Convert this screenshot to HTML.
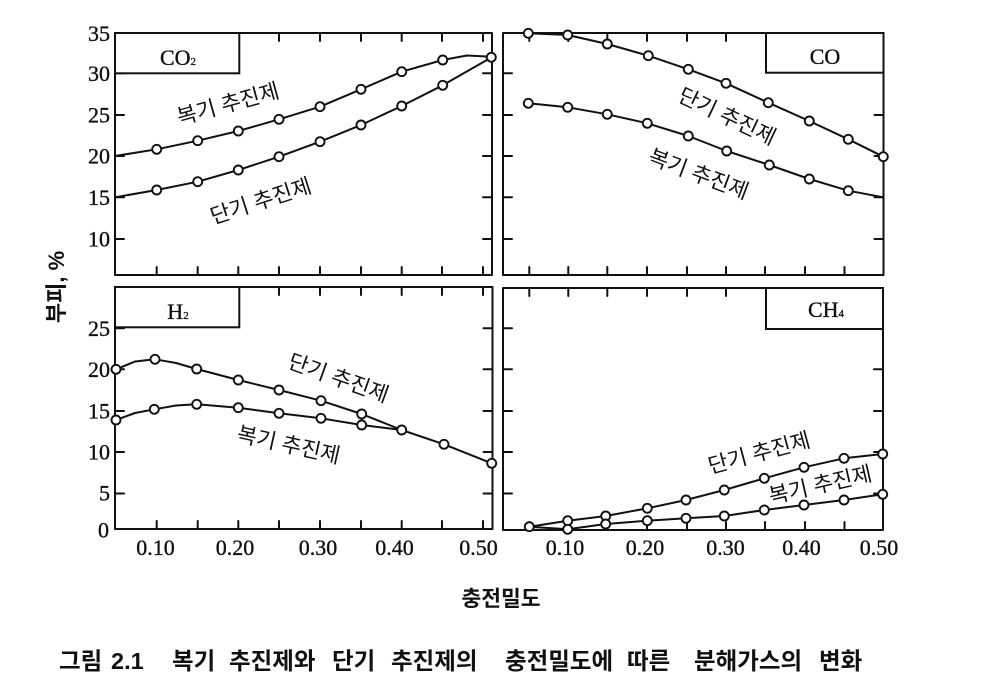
<!DOCTYPE html>
<html>
<head>
<meta charset="utf-8">
<style>
html,body{margin:0;padding:0;background:#fff;}
svg{display:block;}
.num{font-family:"Liberation Serif","Times New Roman",serif;font-size:22px;fill:#111;stroke:#111;stroke-width:0.35px;}
.kr{font-family:"Liberation Sans","Noto Sans CJK KR","NanumGothic",sans-serif;fill:#111;}
</style>
</head>
<body>
<svg width="987" height="692" viewBox="0 0 987 692" xmlns="http://www.w3.org/2000/svg">
<rect x="0" y="0" width="987" height="692" fill="#fff"/>

<g fill="none" stroke="#111" stroke-width="2" stroke-linejoin="round" stroke-linecap="round">
  <rect x="115" y="33" width="377" height="242"/>
  <rect x="503" y="33" width="380.5" height="242"/>
  <rect x="115" y="287" width="377.5" height="242"/>
  <rect x="503" y="288" width="380" height="242"/>

  <path d="M156.7,275v-8M197.7,275v-8M238.3,275v-8M279,275v-8M320,275v-8M361,275v-8M401.7,275v-8M442,275v-8M483,275v-8
           M279,33v8M320,33v8M361,33v8M401.7,33v8M442,33v8M483,33v8
           M115,73.3h9M115,115h9M115,156h9M115,197.3h9M115,239h9
           M492,73.3h-9M492,115h-9M492,156h-9M492,197.3h-9M492,239h-9"/>
  <path d="M529.3,275v-8M568.3,275v-8M607.3,275v-8M647,275v-8M687,275v-8M726,275v-8M765,275v-8M805,275v-8M844.5,275v-8
           M529.3,33v8M568.3,33v8M607.3,33v8M647,33v8M687,33v8M726,33v8
           M503,73.3h9M503,115h9M503,156h9M503,197.3h9M503,239h9
           M883.5,115h-9M883.5,156h-9M883.5,197.3h-9M883.5,239h-9"/>
  <path d="M156.7,529v-8M197.7,529v-8M238.3,529v-8M279,529v-8M320,529v-8M361,529v-8M401.7,529v-8M442,529v-8M483,529v-8
           M279,287v8M320,287v8M361,287v8M401.7,287v8M442,287v8M483,287v8
           M115,328.3h9M115,369.3h9M115,411h9M115,452h9M115,493.5h9
           M492.5,328.3h-9M492.5,369.3h-9M492.5,411h-9M492.5,452h-9M492.5,493.5h-9"/>
  <path d="M529.3,530v-8M568.3,530v-8M607.3,530v-8M647,530v-8M687,530v-8M726,530v-8M765,530v-8M805,530v-8M844.5,530v-8
           M529.3,288v8M568.3,288v8M607.3,288v8M647,288v8M687,288v8M726,288v8
           M503,328.3h9M503,369.3h9M503,411h9M503,452h9M503,493.5h9
           M883,369.3h-9M883,411h-9M883,452h-9M883,493.5h-9"/>

  <polyline points="115,156 156.7,149.3 197.7,140.7 238.3,131 279,119.3 320,106.7 361,89.3 401.7,71.7 442.7,60 467,55.5 491.7,56.7"/>
  <polyline points="115,197.3 156.7,190 197.7,181.7 238.3,170 279,156.7 320,141.7 361,125 401.7,106 442.7,85.3 491.7,57.3"/>
  <polyline points="528.3,33.3 567.7,35 607.3,44 648.3,55.7 688.3,69.3 726,83.3 768.3,102.7 809.3,121 848.3,139.3 883.3,156.7"/>
  <polyline points="528.3,103.3 567.7,107.3 607.3,114.3 647.3,123.3 688.3,136 726.7,151 769.3,165 809.3,179 848.3,190.7 883.3,197.3"/>
  <polyline points="116,369.3 135,361.5 155,359.3 176,363 196.7,369 238.3,380 279,390 321,400.7 361.7,414 401.7,430 444,444.3 491.7,463.3"/>
  <polyline points="116,420 135,413 154.3,409.3 176,405.5 196.7,404.3 238.3,407.7 279,413.3 321,418.3 361.7,425 401.7,430"/>
  <polyline points="529.3,526.7 567.7,520.7 605.7,516 647.3,508.3 686,500 724.3,490 764.3,478.3 804,467.3 844,458.3 882.7,454"/>
  <polyline points="529.3,526.7 567.7,529.3 605.7,524 647.3,520.7 686,518.3 724.3,516 764.3,510 804,505 844,500 882.7,494.3"/>
</g>

<g fill="#fff" stroke="#111" stroke-width="1.9">
  <circle cx="156.7" cy="149.3" r="4.5"/><circle cx="197.7" cy="140.7" r="4.5"/><circle cx="238.3" cy="131" r="4.5"/><circle cx="279" cy="119.3" r="4.5"/><circle cx="320" cy="106.7" r="4.5"/><circle cx="361" cy="89.3" r="4.5"/><circle cx="401.7" cy="71.7" r="4.5"/><circle cx="442.7" cy="60" r="4.5"/>
  <circle cx="156.7" cy="190" r="4.5"/><circle cx="197.7" cy="181.7" r="4.5"/><circle cx="238.3" cy="170" r="4.5"/><circle cx="279" cy="156.7" r="4.5"/><circle cx="320" cy="141.7" r="4.5"/><circle cx="361" cy="125" r="4.5"/><circle cx="401.7" cy="106" r="4.5"/><circle cx="442.7" cy="85.3" r="4.5"/><circle cx="491.3" cy="57.3" r="4.5"/>

  <circle cx="528.3" cy="33.3" r="4.5"/><circle cx="567.7" cy="35" r="4.5"/><circle cx="607.3" cy="44" r="4.5"/><circle cx="648.3" cy="55.7" r="4.5"/><circle cx="688.3" cy="69.3" r="4.5"/><circle cx="726" cy="83.3" r="4.5"/><circle cx="768.3" cy="102.7" r="4.5"/><circle cx="809.3" cy="121" r="4.5"/><circle cx="848.3" cy="139.3" r="4.5"/><circle cx="883.3" cy="156.7" r="4.5"/>
  <circle cx="528.3" cy="103.3" r="4.5"/><circle cx="567.7" cy="107.3" r="4.5"/><circle cx="607.3" cy="114.3" r="4.5"/><circle cx="647.3" cy="123.3" r="4.5"/><circle cx="688.3" cy="136" r="4.5"/><circle cx="726.7" cy="151" r="4.5"/><circle cx="769.3" cy="165" r="4.5"/><circle cx="809.3" cy="179" r="4.5"/><circle cx="848.3" cy="190.7" r="4.5"/>

  <circle cx="116" cy="369.3" r="4.5"/><circle cx="155" cy="359.3" r="4.5"/><circle cx="196.7" cy="369" r="4.5"/><circle cx="238.3" cy="380" r="4.5"/><circle cx="279" cy="390" r="4.5"/><circle cx="321" cy="400.7" r="4.5"/><circle cx="361.7" cy="414" r="4.5"/><circle cx="401.7" cy="430" r="4.5"/><circle cx="444" cy="444.3" r="4.5"/><circle cx="491.7" cy="463.3" r="4.5"/>
  <circle cx="116" cy="420" r="4.5"/><circle cx="154.3" cy="409.3" r="4.5"/><circle cx="196.7" cy="404.3" r="4.5"/><circle cx="238.3" cy="407.7" r="4.5"/><circle cx="279" cy="413.3" r="4.5"/><circle cx="321" cy="418.3" r="4.5"/><circle cx="361.7" cy="425" r="4.5"/>

  <circle cx="529.3" cy="526.7" r="4.5"/><circle cx="567.7" cy="520.7" r="4.5"/><circle cx="605.7" cy="516" r="4.5"/><circle cx="647.3" cy="508.3" r="4.5"/><circle cx="686" cy="500" r="4.5"/><circle cx="724.3" cy="490" r="4.5"/><circle cx="764.3" cy="478.3" r="4.5"/><circle cx="804" cy="467.3" r="4.5"/><circle cx="844" cy="458.3" r="4.5"/><circle cx="882.7" cy="454" r="4.5"/>
  <circle cx="567.7" cy="529.3" r="4.5"/><circle cx="605.7" cy="524" r="4.5"/><circle cx="647.3" cy="520.7" r="4.5"/><circle cx="686" cy="518.3" r="4.5"/><circle cx="724.3" cy="516" r="4.5"/><circle cx="764.3" cy="510" r="4.5"/><circle cx="804" cy="505" r="4.5"/><circle cx="844" cy="500" r="4.5"/><circle cx="882.7" cy="494.3" r="4.5"/>
</g>

<g fill="#fff" stroke="#111" stroke-width="2">
  <rect x="115" y="33" width="124.3" height="40.3"/>
  <rect x="766" y="33" width="117.5" height="39.7"/>
  <rect x="115" y="287" width="124.3" height="40.3"/>
  <rect x="766" y="288" width="117" height="41"/>
</g>
<text class="num" x="178" y="65" text-anchor="middle" font-size="21">CO<tspan font-size="11">2</tspan></text>
<text class="num" x="825" y="64" text-anchor="middle" font-size="24">CO</text>
<text class="num" x="178" y="319" text-anchor="middle" font-size="21">H<tspan font-size="11">2</tspan></text>
<text class="num" x="826" y="317" text-anchor="middle" font-size="21">CH<tspan font-size="11">4</tspan></text>

<g class="num" text-anchor="end">
  <text x="110" y="41">35</text>
  <text x="110" y="81">30</text>
  <text x="110" y="122.5">25</text>
  <text x="110" y="163.5">20</text>
  <text x="110" y="205">15</text>
  <text x="110" y="246.5">10</text>
  <text x="110" y="336">25</text>
  <text x="110" y="377">20</text>
  <text x="110" y="418.5">15</text>
  <text x="110" y="459.5">10</text>
  <text x="110" y="500.5">5</text>
  <text x="109" y="537.5">0</text>
</g>
<g class="num" text-anchor="middle" font-size="21">
  <text x="155.5" y="555">0.10</text>
  <text x="235" y="555">0.20</text>
  <text x="318" y="555">0.30</text>
  <text x="394.5" y="555">0.40</text>
  <text x="478.5" y="555">0.50</text>
  <text x="565" y="555">0.10</text>
  <text x="645" y="555">0.20</text>
  <text x="725.5" y="555">0.30</text>
  <text x="801.5" y="555">0.40</text>
  <text x="879" y="555">0.50</text>
</g>

<g class="kr" font-size="21.5" text-anchor="middle">
  <text transform="translate(230,111) rotate(-15.3)">복기 추진제</text>
  <text transform="translate(263,208) rotate(-17.9)">단기 추진제</text>
  <text transform="translate(724,123) rotate(25.4)">단기 추진제</text>
  <text transform="translate(696,181) rotate(20.6)">복기 추진제</text>
  <text transform="translate(336,385) rotate(19.8)">단기 추진제</text>
  <text transform="translate(287,452) rotate(12.5)">복기 추진제</text>
  <text transform="translate(761,460) rotate(-15)">단기 추진제</text>
  <text transform="translate(822,492) rotate(-13)">복기 추진제</text>
</g>

<text class="kr" font-size="22" font-weight="bold" text-anchor="middle" transform="translate(64,287) rotate(-90)">부피, %</text>
<text class="kr" font-size="21.5" font-weight="bold" text-anchor="middle" x="501" y="606">충전밀도</text>

<g class="kr" font-size="23.5" font-weight="bold">
  <text x="59" y="669">그림</text>
  <text x="111" y="669">2.1</text>
  <text x="172" y="669">복기</text>
  <text x="229" y="669">추진제와</text>
  <text x="332" y="669">단기</text>
  <text x="391" y="669">추진제의</text>
  <text x="505" y="669">충전밀도에</text>
  <text x="627" y="669">따른</text>
  <text x="694" y="669">분해가스의</text>
  <text x="819" y="669">변화</text>
</g>
</svg>
</body>
</html>
